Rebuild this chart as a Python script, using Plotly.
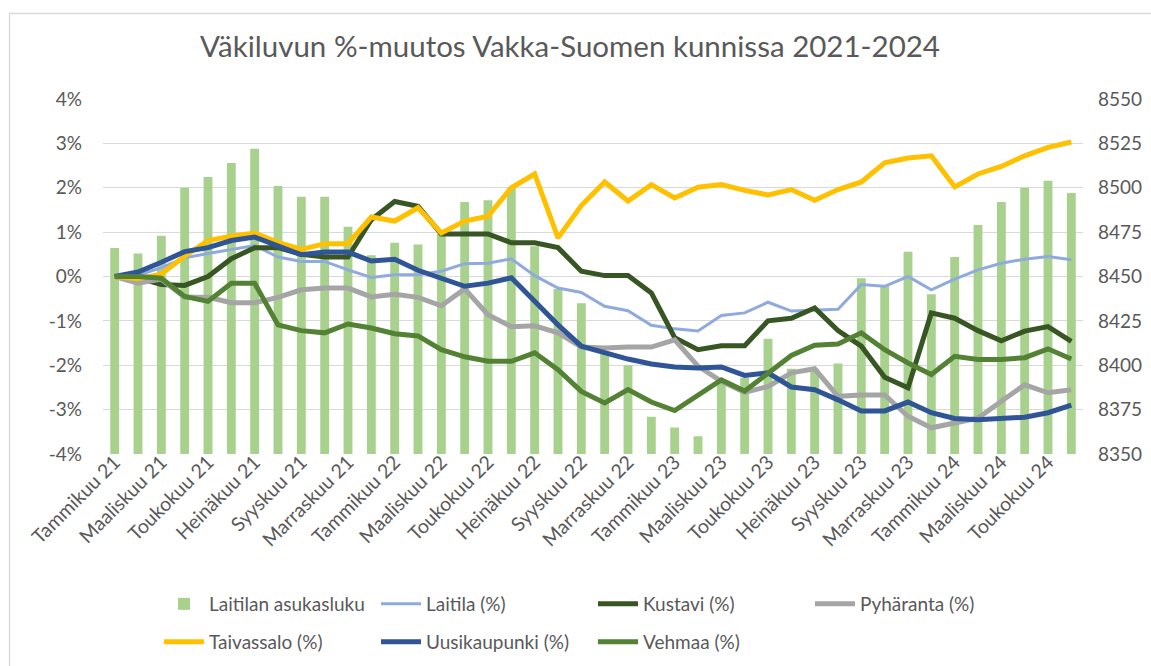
import plotly.graph_objects as go

months = ["Tammikuu", "Helmikuu", "Maaliskuu", "Huhtikuu", "Toukokuu", "Kesäkuu",
          "Heinäkuu", "Elokuu", "Syyskuu", "Lokakuu", "Marraskuu", "Joulukuu"]
categories = [f"{m} {y}" for y in ["21", "22", "23", "24"] for m in months][:42]
tick_labels = categories[::2]

laitilan_asukasluku = [8466, 8463, 8473, 8500, 8506, 8514, 8522, 8501, 8495, 8495, 8478, 8462,
                       8469, 8468, 8474, 8492, 8493, 8500, 8467, 8443, 8435, 8407, 8400, 8371,
                       8365, 8360, 8390, 8393, 8415, 8398, 8398, 8401, 8449, 8445, 8464, 8440,
                       8461, 8479, 8492, 8500, 8504, 8497]
laitila = [0, 0.03, 0.2, 0.42, 0.52, 0.61, 0.7, 0.44, 0.34, 0.34, 0.15, -0.02,
           0.04, 0.04, 0.12, 0.29, 0.3, 0.4, 0.02, -0.26, -0.36, -0.67, -0.77, -1.1,
           -1.18, -1.23, -0.88, -0.82, -0.58, -0.78, -0.76, -0.74, -0.18, -0.22, 0.0, -0.3,
           -0.06, 0.15, 0.3, 0.39, 0.45, 0.38]
kustavi = [0, -0.03, -0.18, -0.2, 0.0, 0.4, 0.65, 0.65, 0.5, 0.44, 0.44, 1.28,
           1.69, 1.58, 0.96, 0.96, 0.96, 0.76, 0.76, 0.65, 0.12, 0.02, 0.02, -0.37,
           -1.38, -1.65, -1.56, -1.56, -1.0, -0.94, -0.71, -1.22, -1.57, -2.27, -2.51, -0.82,
           -0.94, -1.22, -1.45, -1.23, -1.13, -1.46]
pyharanta = [0, -0.15, -0.06, -0.47, -0.47, -0.59, -0.59, -0.47, -0.3, -0.26, -0.26, -0.46,
             -0.4, -0.47, -0.66, -0.28, -0.86, -1.13, -1.11, -1.27, -1.59, -1.61, -1.59, -1.59,
             -1.43, -2.02, -2.36, -2.61, -2.48, -2.17, -2.08, -2.7, -2.67, -2.67, -3.15, -3.41,
             -3.3, -3.19, -2.81, -2.44, -2.62, -2.55]
taivassalo = [0, -0.05, 0.05, 0.46, 0.81, 0.91, 0.98, 0.77, 0.61, 0.74, 0.74, 1.34,
              1.25, 1.55, 0.98, 1.25, 1.36, 2.0, 2.31, 0.87, 1.6, 2.13, 1.7, 2.07,
              1.77, 2.01, 2.07, 1.94, 1.84, 1.96, 1.72, 1.96, 2.13, 2.56, 2.67, 2.72,
              2.02, 2.31, 2.48, 2.72, 2.91, 3.03]
uusikaupunki = [0, 0.1, 0.32, 0.56, 0.65, 0.81, 0.89, 0.68, 0.49, 0.55, 0.55, 0.35,
                0.39, 0.14, -0.04, -0.22, -0.15, -0.03, -0.56, -1.09, -1.57, -1.71, -1.86, -1.97,
                -2.04, -2.06, -2.04, -2.23, -2.17, -2.49, -2.55, -2.78, -3.03, -3.03, -2.83, -3.07,
                -3.2, -3.23, -3.21, -3.17, -3.07, -2.9]
vehmaa = [0, 0.0, -0.04, -0.45, -0.56, -0.15, -0.15, -1.09, -1.22, -1.27, -1.07, -1.16,
          -1.29, -1.34, -1.65, -1.81, -1.91, -1.91, -1.72, -2.1, -2.59, -2.85, -2.55, -2.83,
          -3.02, -2.67, -2.33, -2.58, -2.17, -1.78, -1.55, -1.52, -1.27, -1.65, -1.95, -2.21,
          -1.8, -1.87, -1.87, -1.83, -1.63, -1.86]

pct_ticks = [4, 3, 2, 1, 0, -1, -2, -3, -4]
pct_labels = ["4%", "3%", "2%", "1%", "0%", "-1%", "-2%", "-3%", "-4%"]
pop_ticks = [8550, 8525, 8500, 8475, 8450, 8425, 8400, 8375, 8350]

FONT = "Lato"
TXT = "#595959"

fig = go.Figure()
fig.add_trace(go.Bar(x=categories, y=laitilan_asukasluku, name="Laitilan asukasluku",
                     marker=dict(color="#A9D18E", line=dict(width=0)), width=0.38,
                     yaxis="y", legend="legend"))

lines = [
    ("Laitila (%)", laitila, "#8FAADC", 3, "legend"),
    ("Kustavi (%)", kustavi, "#375623", 5, "legend"),
    ("Pyhäranta (%)", pyharanta, "#A5A5A5", 5, "legend"),
    ("Taivassalo (%)", taivassalo, "#FFC000", 5, "legend2"),
    ("Uusikaupunki (%)", uusikaupunki, "#2F5597", 5, "legend2"),
    ("Vehmaa (%)", vehmaa, "#548235", 5, "legend2"),
]
for name, vals, col, w, lg in lines:
    fig.add_trace(go.Scatter(x=categories, y=vals, name=name, mode="lines",
                             line=dict(color=col, width=w), yaxis="y2", legend=lg))

PW, PH = 980, 355
def px2x(px):
    return (px - 103) / PW
def py2y(py):
    return (454 - py) / PH

legend_common = dict(orientation="h", xanchor="left", yanchor="middle",
                     entrywidth=162, entrywidthmode="pixels",
                     font=dict(size=19, color=TXT), bgcolor="rgba(0,0,0,0)", itemwidth=40)

fig.update_layout(
    width=1151, height=666,
    margin=dict(l=103, r=68, t=99, b=212, autoexpand=False),
    paper_bgcolor="white", plot_bgcolor="white",
    font=dict(family=FONT, color=TXT, size=17),
    title=dict(text="Väkiluvun %-muutos Vakka-Suomen kunnissa 2021-2024",
               x=570 / 1151, xanchor="center", y=1 - 47 / 666, yanchor="middle",
               font=dict(family=FONT, size=29.5, color=TXT)),
    xaxis=dict(type="category", tickmode="array", tickvals=tick_labels, ticktext=tick_labels,
               tickangle=-45, tickfont=dict(size=19.5, color=TXT), showgrid=False,
               showline=False, ticks="", range=[-0.5, 41.5], automargin=False,
               ticklabelstandoff=-8),
    yaxis=dict(side="right", range=[8350, 8550], tickvals=pop_ticks,
               showgrid=False, zeroline=False, showline=False, ticks="",
               tickfont=dict(size=19, color=TXT), ticklabelstandoff=14, automargin=False),
    yaxis2=dict(overlaying="y", side="left", range=[-4, 4], tickvals=pct_ticks,
                ticktext=pct_labels, showgrid=True, gridcolor="#D9D9D9", gridwidth=1.3,
                zeroline=False, showline=False, ticks="",
                tickfont=dict(size=19, color=TXT), ticklabelstandoff=20, automargin=False),
    bargap=0.6,
    hovermode=False,
    legend=dict(x=px2x(159), y=py2y(604), **legend_common),
    legend2=dict(x=px2x(159), y=py2y(642), **legend_common),
    shapes=[dict(type="rect", xref="paper", yref="paper",
                 x0=px2x(9.5), x1=px2x(1170), y0=py2y(680), y1=py2y(13.5),
                 line=dict(color="#D9D9D9", width=1.3), fillcolor="rgba(0,0,0,0)", layer="below")],
)

fig.write_html("out.html", config={"displayModeBar": False},
               post_script="document.body.style.margin='0';")
